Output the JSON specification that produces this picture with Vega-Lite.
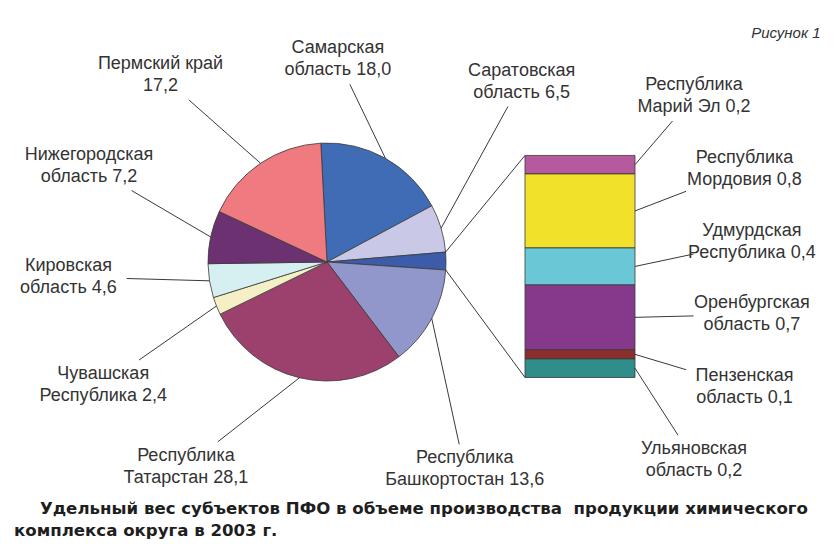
{
  "$schema": "https://vega.github.io/schema/vega-lite/v6.json",
  "width": 840,
  "height": 544,
  "padding": 0,
  "autosize": {"type": "none"},
  "background": "#ffffff",
  "config": {"view": {"stroke": null}},
  "title": {
    "text": ["\u2800\u2800Удельный вес субъектов ПФО в объеме производства\u00a0 продукции химического", "комплекса округа в 2003 г."],
    "orient": "bottom", "anchor": "start", "frame": "group", "offset": -43, "dx": 14,
    "font": "DejaVu Sans", "fontSize": 16.6, "fontWeight": "bold", "color": "#1e1e1e", "lineHeight": 22
  },
  "data": {"values": [
    {"region": "Самарская область", "l1": "Самарская", "l2": "область", "value": 18.0, "part": "pie"},
    {"region": "Саратовская область", "l1": "Саратовская", "l2": "область", "value": 6.5, "part": "pie"},
    {"region": "Республика Марий Эл", "l1": "Республика", "l2": "Марий Эл", "value": 0.2, "part": "bar"},
    {"region": "Республика Мордовия", "l1": "Республика", "l2": "Мордовия", "value": 0.8, "part": "bar"},
    {"region": "Удмурдская Республика", "l1": "Удмурдская", "l2": "Республика", "value": 0.4, "part": "bar"},
    {"region": "Оренбургская область", "l1": "Оренбургская", "l2": "область", "value": 0.7, "part": "bar"},
    {"region": "Пензенская область", "l1": "Пензенская", "l2": "область", "value": 0.1, "part": "bar"},
    {"region": "Ульяновская область", "l1": "Ульяновская", "l2": "область", "value": 0.2, "part": "bar"},
    {"region": "Республика Башкортостан", "l1": "Республика", "l2": "Башкортостан", "value": 13.6, "part": "pie"},
    {"region": "Республика Татарстан", "l1": "Республика", "l2": "Татарстан", "value": 28.1, "part": "pie"},
    {"region": "Чувашская Республика", "l1": "Чувашская", "l2": "Республика", "value": 2.4, "part": "pie"},
    {"region": "Кировская область", "l1": "Кировская", "l2": "область", "value": 4.6, "part": "pie"},
    {"region": "Нижегородская область", "l1": "Нижегородская", "l2": "область", "value": 7.2, "part": "pie"},
    {"region": "Пермский край", "l1": "Пермский край", "l2": "", "value": 17.2, "part": "pie"}
  ]},
  "layer": [
    {
      "transform": [
        {"window": [{"op": "row_number", "as": "idx"}]},
        {"calculate": "datum.part == 'bar' ? 'Прочие' : datum.region", "as": "slice"},
        {"aggregate": [{"op": "sum", "field": "value", "as": "value"}, {"op": "min", "field": "idx", "as": "idx"}], "groupby": ["slice"]}
      ],
      "mark": {"type": "arc", "outerRadius": 119, "stroke": "#3a3a3a", "strokeWidth": 0.8},
      "encoding": {
        "x": {"datum": 3.5345, "type": "quantitative", "scale": {"domain": [0, 9.0794], "nice": false, "zero": false},
              "axis": {"orient": "top", "title": "Рисунок 1", "domain": false, "ticks": false, "labels": false, "grid": false,
                       "titleFont": "Liberation Sans", "titleFontSize": 15, "titleFontStyle": "italic", "titleFontWeight": "normal",
                       "titleColor": "#333333", "titleX": 820, "titleY": 32, "titleAlign": "right", "titleBaseline": "middle"}},
        "y": {"datum": 1.2481, "type": "quantitative", "scale": {"domain": [-1.8, 4.08], "nice": false, "zero": false}, "axis": null},
        "theta": {"field": "value", "type": "quantitative", "stack": true, "scale": {"range": [-0.052, 6.2312]}},
        "order": {"field": "idx", "type": "quantitative"},
        "color": {"field": "slice", "type": "nominal", "legend": null,
          "scale": {
            "domain": ["Самарская область", "Саратовская область", "Прочие", "Республика Башкортостан", "Республика Татарстан", "Чувашская Республика", "Кировская область", "Нижегородская область", "Пермский край", "Республика Марий Эл", "Республика Мордовия", "Удмурдская Республика", "Оренбургская область", "Пензенская область", "Ульяновская область"],
            "range": ["#3f6cb4", "#c9c9e7", "#3c5ba8", "#9297cb", "#9c406e", "#f4efc4", "#d6eff1", "#6c3170", "#ef7b80", "#b65a9e", "#f1e12a", "#69c7d6", "#85398a", "#8b2e2e", "#2f8d8a"]
          }}
      }
    },
    {
      "transform": [
        {"window": [{"op": "row_number", "as": "idx"}]},
        {"filter": "datum.part == 'bar'"},
        {"stack": "value", "groupby": [], "sort": [{"field": "idx", "order": "descending"}], "as": ["b0", "b1"]}
      ],
      "mark": {"type": "rect", "stroke": "#3a3a3a", "strokeWidth": 0.8},
      "encoding": {
        "x": {"datum": 5.6746, "type": "quantitative"},
        "x2": {"datum": 6.8636},
        "y": {"field": "b0", "type": "quantitative", "axis": null},
        "y2": {"field": "b1"},
        "color": {"field": "region", "type": "nominal", "legend": null}
      }
    },
    {
      "transform": [
        {"window": [{"op": "row_number", "as": "idx"}]},
        {"joinaggregate": [{"op": "sum", "field": "value", "as": "total"}]},
        {"window": [{"op": "sum", "field": "value", "as": "cum"}], "sort": [{"field": "idx"}], "frame": [null, 0]},
        {"filter": "datum.part == 'bar'"},
        {"calculate": "datum.cum - datum.value", "as": "cum0"},
        {"aggregate": [{"op": "min", "field": "cum0", "as": "s0"}, {"op": "max", "field": "cum", "as": "s1"}, {"op": "max", "field": "total", "as": "total"}]},
        {"calculate": "-0.052 + 2*PI*datum.s0/datum.total", "as": "a0"},
        {"calculate": "-0.052 + 2*PI*datum.s1/datum.total", "as": "a1"},
        {"calculate": "3.5345 + 1.2862*sin(datum.a0)", "as": "x0"},
        {"calculate": "1.2481 + 1.2862*cos(datum.a0)", "as": "y0"},
        {"calculate": "3.5345 + 1.2862*sin(datum.a1)", "as": "x1"},
        {"calculate": "1.2481 + 1.2862*cos(datum.a1)", "as": "y1"},
        {"calculate": "datum.s1 - datum.s0", "as": "btop"}
      ],
      "layer": [
        {
          "mark": {"type": "rule", "color": "#222222", "strokeWidth": 0.9},
          "encoding": {
            "x": {"field": "x0", "type": "quantitative"},
            "y": {"field": "y0", "type": "quantitative", "axis": null},
            "x2": {"datum": 5.6746},
            "y2": {"field": "btop"}
          }
        },
        {
          "mark": {"type": "rule", "color": "#222222", "strokeWidth": 0.9},
          "encoding": {
            "x": {"field": "x1", "type": "quantitative"},
            "y": {"field": "y1", "type": "quantitative", "axis": null},
            "x2": {"datum": 5.6746},
            "y2": {"datum": 0}
          }
        }
      ]
    },
    {
      "transform": [
        {"window": [{"op": "row_number", "as": "idx"}]},
        {"joinaggregate": [{"op": "sum", "field": "value", "as": "total"}]},
        {"window": [{"op": "sum", "field": "value", "as": "cum"}], "sort": [{"field": "idx"}], "frame": [null, 0]},
        {"filter": "datum.part == 'pie'"},
        {"calculate": "-0.052 + 2*PI*(datum.cum - datum.value/2)/datum.total", "as": "a"},
        {"calculate": "datum.a > PI ? 'L' : 'R'", "as": "side"},
        {"window": [{"op": "row_number", "as": "k"}], "groupby": ["side"], "sort": [{"field": "idx"}]},
        {"calculate": "datum.side == 'L' ? 3.7176 + (datum.k - 1)*0.4669 : datum.a + (datum.a < PI/2 ? -0.46 : 0.49)", "as": "la"},
        {"calculate": "2.14 + 0.994*sin(datum.la)", "as": "rr"},
        {"calculate": "3.5345 + (datum.side == 'L' ? 2.80 : datum.rr)*sin(datum.la)", "as": "lx"},
        {"calculate": "1.2481 + (datum.side == 'L' ? 2.64 : datum.rr)*cos(datum.la)", "as": "ly"},
        {"calculate": "3.5345 + 1.2862*sin(datum.a)", "as": "sx"},
        {"calculate": "1.2481 + 1.2862*cos(datum.a)", "as": "sy"},
        {"calculate": "min(0.63/max(abs(datum.sx-datum.lx),0.001), 0.27/max(abs(datum.sy-datum.ly),0.001))", "as": "t"},
        {"calculate": "datum.lx + datum.t*(datum.sx-datum.lx)", "as": "ex"},
        {"calculate": "datum.ly + datum.t*(datum.sy-datum.ly)", "as": "ey"},
        {"calculate": "[datum.l1, trim(datum.l2 + ' ' + replace(format(datum.value, '.1f'), '.', ','))]", "as": "txt"}
      ],
      "layer": [
        {
          "mark": {"type": "rule", "color": "#222222", "strokeWidth": 0.9},
          "encoding": {
            "x": {"field": "ex", "type": "quantitative"},
            "y": {"field": "ey", "type": "quantitative", "axis": null},
            "x2": {"field": "sx"},
            "y2": {"field": "sy"}
          }
        },
        {
          "mark": {"type": "text", "font": "Liberation Sans", "fontSize": 18, "color": "#333333", "lineHeight": 22, "align": "center", "baseline": "middle", "dy": -11},
          "encoding": {
            "x": {"field": "lx", "type": "quantitative"},
            "y": {"field": "ly", "type": "quantitative", "axis": null},
            "text": {"field": "txt"}
          }
        }
      ]
    },
    {
      "transform": [
        {"window": [{"op": "row_number", "as": "idx"}]},
        {"filter": "datum.part == 'bar'"},
        {"stack": "value", "groupby": [], "sort": [{"field": "idx", "order": "descending"}], "as": ["b0", "b1"]},
        {"window": [{"op": "row_number", "as": "r"}], "sort": [{"field": "idx"}]},
        {"calculate": "(datum.b0 + datum.b1)/2", "as": "sy"},
        {"calculate": "6.8636", "as": "sx"},
        {"calculate": "3.042 - 0.787*(datum.r - 1)", "as": "ly"},
        {"calculate": "8.128 - 0.627*pow(abs(datum.r - 3.5)/2.5, 4)", "as": "lx"},
        {"calculate": "min(0.63/max(abs(datum.sx-datum.lx),0.001), 0.27/max(abs(datum.sy-datum.ly),0.001))", "as": "t"},
        {"calculate": "datum.lx + datum.t*(datum.sx-datum.lx)", "as": "ex"},
        {"calculate": "datum.ly + datum.t*(datum.sy-datum.ly)", "as": "ey"},
        {"calculate": "[datum.l1, trim(datum.l2 + ' ' + replace(format(datum.value, '.1f'), '.', ','))]", "as": "txt"}
      ],
      "layer": [
        {
          "mark": {"type": "rule", "color": "#222222", "strokeWidth": 0.9},
          "encoding": {
            "x": {"field": "ex", "type": "quantitative"},
            "y": {"field": "ey", "type": "quantitative", "axis": null},
            "x2": {"field": "sx"},
            "y2": {"field": "sy"}
          }
        },
        {
          "mark": {"type": "text", "font": "Liberation Sans", "fontSize": 18, "color": "#333333", "lineHeight": 22, "align": "center", "baseline": "middle", "dy": -11},
          "encoding": {
            "x": {"field": "lx", "type": "quantitative"},
            "y": {"field": "ly", "type": "quantitative", "axis": null},
            "text": {"field": "txt"}
          }
        }
      ]
    }
  ]
}
